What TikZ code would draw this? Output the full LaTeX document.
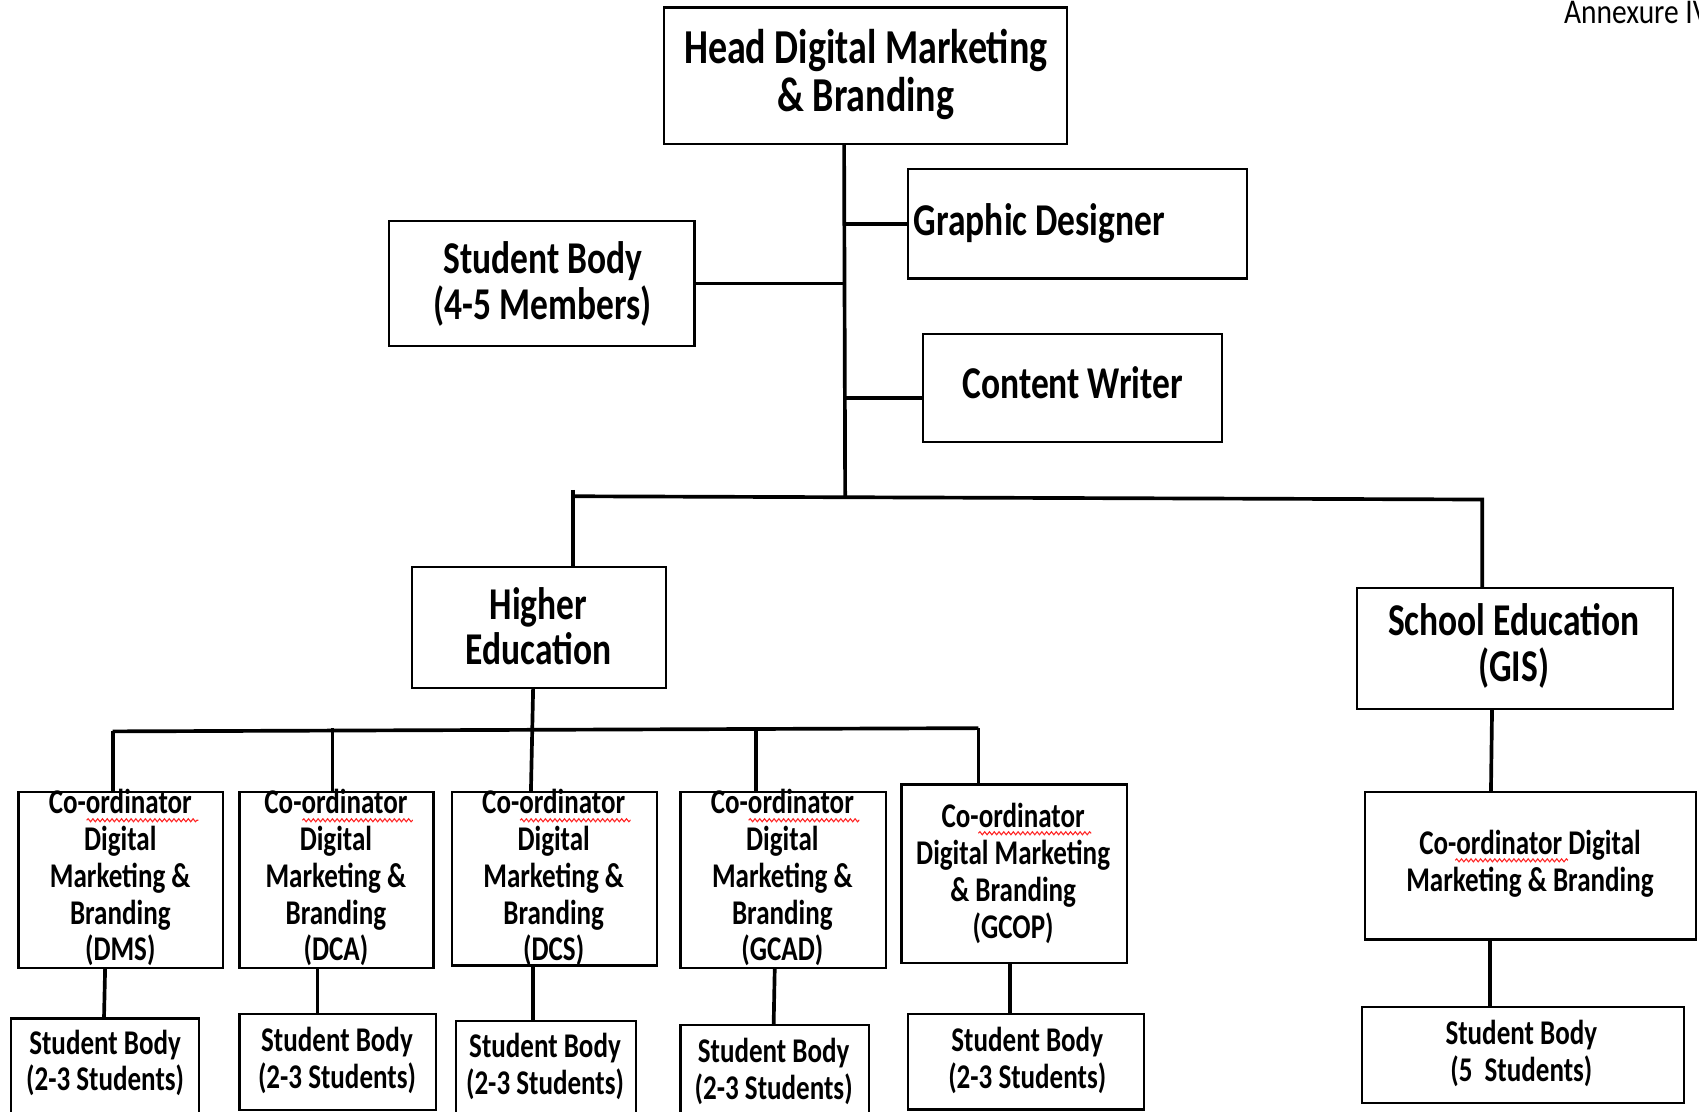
\documentclass[tikz,border=0pt]{standalone}
\usepackage{fontspec}
\setmainfont{Carlito}[FakeStretch=0.78]
\newfontfamily\annexfont{Carlito}[FakeStretch=0.85]
\usetikzlibrary{calc,decorations.pathmorphing}
\tikzset{
  box/.style={draw, line width=1pt, inner sep=0pt},
  conn/.style={line width=1.7pt},
  tbig/.style={align=center, inner sep=0pt, font=\fontsize{22.5}{22}\selectfont\bfseries},
  tmed/.style={align=center, inner sep=0pt, font=\fontsize{21}{21}\selectfont\bfseries},
  tsm/.style={align=center, inner sep=0pt, font=\fontsize{16}{17}\selectfont\bfseries},
  squig/.style={red!85!white, line width=0.5pt, decorate, decoration={snake, amplitude=0.7pt, segment length=2.2pt}}
}
\begin{document}
\begin{tikzpicture}[x=0.5pt,y=-0.5pt]
\useasboundingbox (0,0) rectangle (1568,1026);
\clip (0,0) rectangle (1568,1026);

% ---------- boxes ----------
\node[box, minimum width=186pt, minimum height=63pt] (head) at (799,70) {};
\node[box, minimum width=156.5pt, minimum height=50.5pt] (gd) at (994.5,206.5) {};
\node[box, minimum width=141pt, minimum height=57.5pt] (sbt) at (500,261.5) {};
\node[box, minimum width=138pt, minimum height=50pt] (cw) at (990,358) {};
\node[box, minimum width=117.5pt, minimum height=56pt] (he) at (497.5,579) {};
\node[box, minimum width=146pt, minimum height=55.5pt] (se) at (1398,598.5) {};

\node[box, minimum width=94.5pt, minimum height=81pt] (c1) at (111.5,812) {};
\node[box, minimum width=89.5pt, minimum height=81pt] (c2) at (310.5,812) {};
\node[box, minimum width=94.5pt, minimum height=80pt] (c3) at (511.5,811) {};
\node[box, minimum width=95pt, minimum height=81pt] (c4) at (723,812) {};
\node[box, minimum width=104pt, minimum height=82.5pt] (c5) at (936,806.5) {};
\node[box, minimum width=152.5pt, minimum height=68pt] (c6) at (1412.5,799) {};

\node[box, minimum width=87pt, minimum height=50pt] (s1) at (97,990) {};
\node[box, minimum width=90.5pt, minimum height=44.25pt] (s2) at (311.5,980.25) {};
\node[box, minimum width=83pt, minimum height=49pt] (s3) at (504,991) {};
\node[box, minimum width=87pt, minimum height=47pt] (s4) at (715,993) {};
\node[box, minimum width=109pt, minimum height=44pt] (s5) at (947,980) {};
\node[box, minimum width=148.5pt, minimum height=44.5pt] (s6) at (1405.5,973.5) {};

% ---------- texts ----------
\node[tbig] (headt) at (799,69) {Head Digital Marketing\\\& Branding};
\node[tmed, anchor=west] (gdt) at (843,206) {Graphic Designer};
\node[tmed] (sbtt) at (501,262) {Student Body\\(4-5 Members)};
\node[tmed] (cwt) at (990,353) {Content Writer};
\node[tmed] (het) at (497,578) {Higher\\Education};
\node[tmed] (set) at (1397,596) {School Education\\(GIS)};

\node[tsm] (c1t) at (111,810) {Co-ordinator\\Digital\\Marketing \&\\Branding\\(DMS)};
\node[tsm] (c2t) at (310,810) {Co-ordinator\\Digital\\Marketing \&\\Branding\\(DCA)};
\node[tsm] (c3t) at (511,810) {Co-ordinator\\Digital\\Marketing \&\\Branding\\(DCS)};
\node[tsm] (c4t) at (722,810) {Co-ordinator\\Digital\\Marketing \&\\Branding\\(GCAD)};
\node[tsm] (c5t) at (935,806) {Co-ordinator\\Digital Marketing\\\& Branding\\(GCOP)};
\node[tsm] (c6t) at (1412,797) {Co-ordinator Digital\\Marketing \& Branding};

\node[tsm] (s1t) at (97,981) {Student Body\\(2-3 Students)};
\node[tsm] (s2t) at (311,978.5) {Student Body\\(2-3 Students)};
\node[tsm] (s3t) at (503,984.5) {Student Body\\(2-3 Students)};
\node[tsm] (s4t) at (714,989) {Student Body\\(2-3 Students)};
\node[tsm] (s5t) at (948,978.5) {Student Body\\(2-3 Students)};
\node[tsm] (s6t) at (1404,972) {Student Body\\(5\ \ Students)};

\node[anchor=west, inner sep=0pt, font=\annexfont\fontsize{16}{17}\selectfont] (annex) at (1443,12) {Annexure IV};

% spell-check squiggles
\draw[squig] (80,757) -- (183,757);
\draw[squig] (279,757) -- (381,757);
\draw[squig] (480,757) -- (582,757);
\draw[squig] (691,757) -- (793,757);
\draw[squig] (903,769) -- (1007,769);
\draw[squig] (1343,794) -- (1447,794);

% ---------- connectors ----------
\coordinate (j0) at (780,459);
\draw[conn] (head.south -| 779,0) -- (j0);
\draw[conn] (gd.west) -- (gd.west -| j0);
\draw[conn] (sbt.east) -- (sbt.east -| j0);
\draw[conn] ($(cw.west)+(0,9)$) -- ($(cw.west -| j0)+(0,9)$);

\coordinate (b1L) at (529,458);
\coordinate (b1R) at (1368,461);
\draw[conn] (529,452) -- (he.north -| b1L);
\draw[conn] (b1L) -- (b1R) -- (se.north -| b1R);

\coordinate (hx) at (492,635);
\draw[conn] (he.south -| hx) -- (c3.north -| 490,0);

\coordinate (b2L) at (104,675);
\coordinate (b2R) at (903,672);
\draw[conn] (b2L) -- (b2R);
\draw[conn] (b2L) -- (c1.north -| b2L);
\draw[conn] (307,672) -- (c2.north -| 307,0);
\draw[conn] (698,675) -- (c4.north -| 698,0);
\draw[conn] (b2R) -- (c5.north -| b2R);

\draw[conn] (se.south -| 1377,0) -- (c6.north -| 1376,0);
\draw[conn] (c6.south -| 1375,0) -- (s6.north -| 1375,0);

\draw[conn] (c1.south -| 97,0) -- (s1.north -| 96,0);
\draw[conn] (c2.south -| 293,0) -- (s2.north -| 293,0);
\draw[conn] (c3.south -| 492,0) -- (s3.north -| 492,0);
\draw[conn] (c4.south -| 715,0) -- (s4.north -| 714,0);
\draw[conn] (c5.south -| 932,0) -- (s5.north -| 932,0);
\end{tikzpicture}
\end{document}
